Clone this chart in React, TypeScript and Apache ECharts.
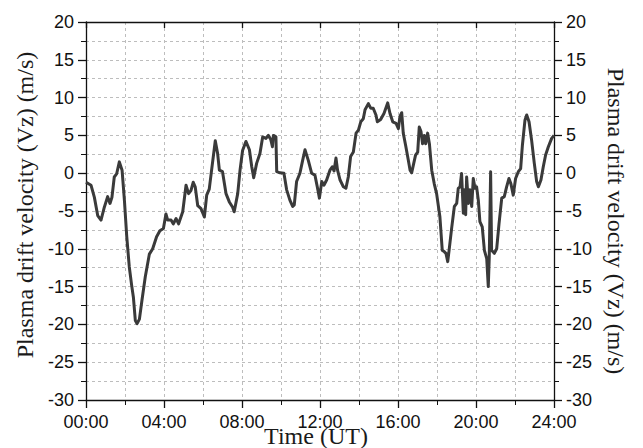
import React, { useEffect, useRef } from "react";
import * as echarts from "echarts";

// Vertical plasma drift velocity over one UT day
const hoursUT: number[] = [
  0, 0.26, 0.43, 0.6, 0.77, 0.94, 1.11, 1.23, 1.33, 1.45, 1.57, 1.71, 1.85, 1.97,
  2.09, 2.22, 2.34, 2.43, 2.53, 2.62, 2.74, 2.87, 3.04, 3.25, 3.42, 3.62, 3.79, 3.97,
  4.1, 4.19, 4.36, 4.48, 4.62, 4.75, 4.96, 5.13, 5.26, 5.38, 5.5, 5.6, 5.73, 5.9,
  6.07, 6.19, 6.32, 6.46, 6.63, 6.75, 6.84, 7.0, 7.18, 7.35, 7.52, 7.6, 7.78, 7.9,
  8.03, 8.2, 8.38, 8.5, 8.6, 8.75, 8.92, 9.06, 9.23, 9.35, 9.47, 9.56, 9.61, 9.74,
  9.78, 9.95, 10.15, 10.29, 10.46, 10.6, 10.68, 10.8, 10.97, 11.11, 11.23, 11.4, 11.57, 11.74,
  11.86, 11.97, 12.09, 12.2, 12.34, 12.51, 12.63, 12.72, 12.82, 12.9, 13.03, 13.2, 13.33, 13.45,
  13.57, 13.71, 13.85, 13.97, 14.09, 14.22, 14.31, 14.48, 14.6, 14.73, 14.87, 14.94, 15.11, 15.28,
  15.47, 15.59, 15.73, 15.9, 16.02, 16.1, 16.19, 16.27, 16.39, 16.53, 16.62, 16.7, 16.79, 16.9,
  17.01, 17.09, 17.18, 17.26, 17.35, 17.42, 17.52, 17.61, 17.73, 17.86, 17.98, 18.15, 18.27, 18.38,
  18.46, 18.55, 18.62, 18.75, 18.89, 19.01, 19.09, 19.18, 19.26, 19.35, 19.4, 19.47, 19.52, 19.61,
  19.69, 19.78, 19.86, 19.95, 20.03, 20.12, 20.2, 20.32, 20.43, 20.55, 20.63, 20.68, 20.75, 20.8,
  20.94, 21.06, 21.18, 21.32, 21.45, 21.57, 21.69, 21.79, 21.91, 22.03, 22.17, 22.29, 22.38, 22.51,
  22.6, 22.72, 22.85, 22.99, 23.11, 23.2, 23.33, 23.45, 23.57, 23.71, 23.88, 24.0,
];

const vzValues: number[] = [
  -1.2, -1.6, -3.2, -5.6, -6.2, -4.5, -3.1, -4.0, -3.2, -0.5, -0.1, 1.5, 0.4, -3.6,
  -8.4, -12.4, -14.8, -16.4, -19.5, -19.9, -19.3, -16.8, -13.7, -10.7, -10.0, -8.4, -7.6, -7.3,
  -5.4, -6.2, -6.2, -6.7, -6.0, -6.7, -5.1, -1.6, -2.7, -2.3, -1.2, -1.8, -4.3, -4.7,
  -5.8, -2.9, -2.1, 0.8, 4.3, 2.6, 0.4, 0.2, -2.7, -3.8, -4.5, -5.1, -2.7, 0.4,
  3.0, 4.2, 3.1, 0.85, -0.6, 1.3, 2.6, 4.8, 4.6, 5.0, 4.5, 3.5, 5.0, 4.8,
  0.2, 0.05, 0.0, -2.2, -3.6, -4.4, -4.2, -1.1, 0.0, 1.7, 3.1, 1.7, 0.0, -0.25,
  -1.8, -3.3, -1.1, -1.6, -0.9, 0.4, 0.85, 0.3, 2.0, 0.4, -0.9, -1.8, -2.0, -0.5,
  2.2, 2.8, 5.3, 5.7, 6.8, 7.2, 8.4, 9.2, 8.6, 8.6, 7.7, 6.8, 7.1, 7.9,
  9.3, 7.9, 6.8, 6.6, 5.9, 7.5, 8.0, 5.3, 3.7, 1.7, 0.4, 0.05, 1.1, 2.4,
  2.8, 6.1, 5.5, 3.9, 5.0, 3.9, 5.3, 3.9, 0.4, -1.4, -2.7, -5.8, -10.2, -10.4,
  -10.6, -11.7, -10.2, -7.3, -4.4, -4.0, -2.0, -1.8, -0.03, -5.3, -2.2, -5.5, -0.5, -4.0,
  -2.2, -4.4, -0.7, -2.0, -1.8, -3.6, -6.4, -7.1, -10.2, -11.3, -15.0, -11.1, 0.2, -10.2,
  -10.6, -10.0, -6.7, -3.3, -3.1, -1.8, -0.7, -1.4, -2.9, -0.7, 0.2, 0.6, 3.7, 7.0,
  7.7, 6.8, 4.4, 1.3, -1.1, -1.8, -0.9, 0.85, 2.4, 3.5, 4.6, 5.0,
];

const xTickHours: number[] = [0, 4, 8, 12, 16, 20, 24];
const yTickValues: number[] = [-30, -25, -20, -15, -10, -5, 0, 5, 10, 15, 20];

const axisTitle = "Plasma drift velocity (Vz) (m/s)";
const timeTitle = "Time (UT)";

const fmtHour = (h: number) => `${String(Math.round(h)).padStart(2, "0")}:00`;

export default function App() {
  const ref = useRef<HTMLDivElement>(null);

  useEffect(() => {
    if (!ref.current) return;
    const chart = echarts.init(ref.current, undefined, { renderer: "svg" });

    const tickFont = {
      fontFamily: "Liberation Sans, Arial, sans-serif",
      fontSize: 18,
      color: "#111",
    };
    const dashed = { color: "#bdbdbd", width: 1, type: [3, 3] as number[] };
    const axisLine = { show: true, onZero: false, lineStyle: { color: "#111", width: 1.3 } };
    const majorTick = { color: "#111", width: 1.3 };
    const minorTickStyle = { color: "#111", width: 1 };

    const xMin = xTickHours[0];
    const xMax = xTickHours[xTickHours.length - 1];
    const xStep = xTickHours[1] - xTickHours[0];
    const yMin = yTickValues[0];
    const yMax = yTickValues[yTickValues.length - 1];
    const yStep = yTickValues[1] - yTickValues[0];

    const titleFont = {
      fontFamily: "Liberation Serif, Times New Roman, serif",
      fontSize: 24,
      fill: "#1a1a1a",
    };

    chart.setOption({
      animation: false,
      backgroundColor: "#ffffff",
      grid: { left: 86, right: 89, top: 22, bottom: 48 },
      xAxis: [
        {
          type: "value",
          position: "bottom",
          min: xMin,
          max: xMax,
          interval: xStep,
          axisLine,
          axisTick: { show: true, inside: false, length: 8, lineStyle: majorTick },
          minorTick: { show: true, splitNumber: 2, length: 5, lineStyle: minorTickStyle },
          splitLine: { show: true, lineStyle: dashed },
          minorSplitLine: { show: true, lineStyle: dashed },
          axisLabel: { ...tickFont, margin: 13, formatter: (v: number) => fmtHour(v) },
        },
        {
          type: "value",
          position: "top",
          min: xMin,
          max: xMax,
          interval: xStep,
          axisLine,
          axisTick: { show: true, inside: true, length: 6, lineStyle: majorTick },
          axisLabel: { show: false },
          splitLine: { show: false },
        },
      ],
      yAxis: [
        {
          type: "value",
          position: "left",
          min: yMin,
          max: yMax,
          interval: yStep,
          axisLine,
          axisTick: { show: true, inside: false, length: 8, lineStyle: majorTick },
          minorTick: { show: true, splitNumber: 2, length: 5, lineStyle: minorTickStyle },
          splitLine: { show: true, lineStyle: dashed },
          minorSplitLine: { show: true, lineStyle: dashed },
          axisLabel: { ...tickFont, margin: 12 },
        },
        {
          type: "value",
          position: "right",
          min: yMin,
          max: yMax,
          interval: yStep,
          axisLine,
          axisTick: { show: true, inside: false, length: 8, lineStyle: majorTick },
          minorTick: { show: true, splitNumber: 2, length: 5, lineStyle: minorTickStyle },
          splitLine: { show: false },
          axisLabel: { ...tickFont, margin: 12 },
        },
      ],
      series: [
        {
          type: "line",
          xAxisIndex: 0,
          yAxisIndex: 0,
          data: hoursUT.map((h, i) => [h, vzValues[i]]),
          showSymbol: false,
          symbol: "none",
          lineStyle: { color: "#3a3a3a", width: 3, join: "round" },
          z: 5,
        },
      ],
      graphic: [
        {
          type: "text",
          x: 25,
          y: 205,
          rotation: Math.PI / 2,
          style: { text: axisTitle, ...titleFont, align: "center", verticalAlign: "middle" },
        },
        {
          type: "text",
          x: 616,
          y: 221,
          rotation: -Math.PI / 2,
          style: { text: axisTitle, ...titleFont, align: "center", verticalAlign: "middle" },
        },
        {
          type: "text",
          x: 316,
          y: 436,
          style: { text: timeTitle, ...titleFont, align: "center", verticalAlign: "middle" },
        },
      ],
    });

    return () => chart.dispose();
  }, []);

  return <div ref={ref} style={{ width: 643, height: 448, position: "fixed", left: 0, top: 0 }} />;
}
